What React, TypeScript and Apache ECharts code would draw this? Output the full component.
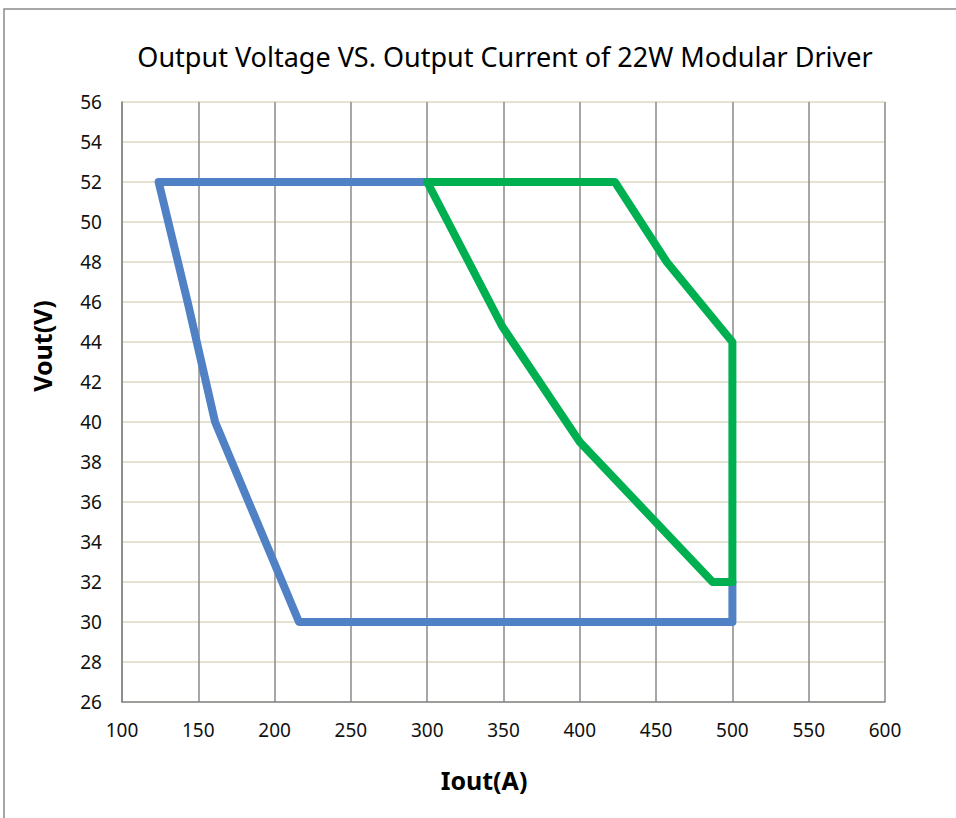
import React, { useEffect, useRef } from "react";
import * as echarts from "echarts";

const TITLE = "Output Voltage VS. Output Current of 22W Modular Driver";
const X_NAME = "Iout(A)";
const Y_NAME = "Vout(V)";

// blue boundary (Iout, Vout)
const blueX = [300, 124, 143, 161, 216, 500, 500];
const blueY = [52, 52, 46, 40, 30, 30, 32];

// green boundary (Iout, Vout)
const greenX = [300, 423, 457, 500, 500, 487, 400, 349, 300];
const greenY = [52, 52, 48, 44, 32, 32, 39, 44.8, 52];

const X_MIN = 100, X_MAX = 600, X_STEP = 50;
const Y_MIN = 26, Y_MAX = 56, Y_STEP = 2;

export default function App() {
  const ref = useRef<HTMLDivElement>(null);
  useEffect(() => {
    document.body.style.margin = "0";
    const chart = echarts.init(ref.current!, null, { renderer: "svg" });
    const pair = (xs: number[], ys: number[]) => xs.map((x, i) => [x, ys[i]]);
    chart.setOption({
      animation: false,
      backgroundColor: "#ffffff",
      title: {
        text: TITLE,
        left: 500,
        textAlign: "center",
        top: 38,
        textStyle: { fontFamily: "Noto Sans", fontSize: 27, fontWeight: "normal", color: "#000" },
      },
      graphic: [
        {
          type: "rect",
          shape: { x: 4, y: 9, width: 980, height: 840 },
          style: { fill: "none", stroke: "#8a8a8a", lineWidth: 1.5 },
          silent: true,
        },
        {
          type: "text",
          x: 42,
          y: 346,
          rotation: Math.PI / 2,
          style: {
            text: Y_NAME,
            fontFamily: "Noto Sans",
            fontSize: 25,
            fontWeight: "bold",
            fill: "#000",
            align: "center",
            verticalAlign: "middle",
          },
          silent: true,
        },
        {
          type: "text",
          x: 484,
          y: 780,
          style: {
            text: X_NAME,
            fontFamily: "Noto Sans",
            fontSize: 25,
            fontWeight: "bold",
            fill: "#000",
            align: "center",
            verticalAlign: "middle",
          },
          silent: true,
        },
      ],
      grid: { left: 122, right: 71, top: 102, bottom: 116, containLabel: false },
      xAxis: {
        type: "value",
        min: X_MIN,
        max: X_MAX,
        interval: X_STEP,
        axisLine: { show: true, lineStyle: { color: "#868686", width: 1.5 } },
        axisTick: { show: false },
        axisLabel: { fontFamily: "Noto Sans", fontSize: 19, color: "#111", margin: 18 },
        splitLine: { show: true, lineStyle: { color: "#8a8a8a", width: 1.5 } },
      },
      yAxis: {
        type: "value",
        min: Y_MIN,
        max: Y_MAX,
        interval: Y_STEP,
        axisLine: { show: true, lineStyle: { color: "#868686", width: 1.5 } },
        axisTick: { show: false },
        axisLabel: { fontFamily: "Noto Sans", fontSize: 19, color: "#111", margin: 20 },
        splitLine: { show: true, lineStyle: { color: "#dcd8c4", width: 1.5 } },
      },
      series: [
        {
          type: "line",
          data: pair(blueX, blueY),
          symbol: "none",
          lineStyle: { color: "#4f81c4", width: 8, cap: "round", join: "round" },
          z: 3,
        },
        {
          type: "line",
          data: pair(greenX, greenY),
          symbol: "none",
          lineStyle: { color: "#00b050", width: 8, cap: "round", join: "round" },
          z: 4,
        },
      ],
    });
    return () => chart.dispose();
  }, []);
  return <div ref={ref} style={{ width: 956, height: 818 }} />;
}
